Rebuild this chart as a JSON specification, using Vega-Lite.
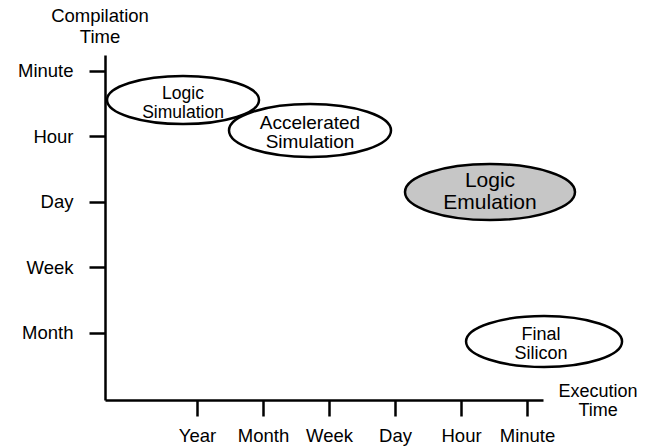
{
  "$schema": "https://vega.github.io/schema/vega-lite/v6.json",
  "width": 438,
  "height": 345,
  "autosize": {"type": "none"},
  "padding": {"left": 105, "top": 55, "right": 112, "bottom": 46},
  "background": "white",
  "config": {
    "view": {"stroke": null},
    "font": "Liberation Sans",
    "axis": {
      "grid": false,
      "domainColor": "black",
      "domainWidth": 2.5,
      "tickColor": "black",
      "tickWidth": 2.5,
      "tickSize": 16,
      "labelColor": "black",
      "labelFont": "Liberation Sans",
      "labelFontSize": 18.5,
      "title": null
    },
    "text": {"font": "Liberation Sans", "color": "black", "align": "center", "baseline": "middle", "lineBreak": "\n"}
  },
  "datasets": {
    "regions": [
      {"name": "Logic Simulation", "text": "Logic\nSimulation", "exec": 0.788, "comp": 4.557},
      {"name": "Accelerated Simulation", "text": "Accelerated\nSimulation", "exec": 2.712, "comp": 4.091},
      {"name": "Logic Emulation", "text": "Logic\nEmulation", "exec": 5.439, "comp": 3.152},
      {"name": "Final Silicon", "text": "Final\nSilicon", "exec": 6.258, "comp": 0.870}
    ],
    "titles": [
      {"name": "y", "text": "Compilation\nTime", "exec": -0.47, "comp": 5.70},
      {"name": "x", "text": "Execution\nTime", "exec": 7.076, "comp": -0.023}
    ]
  },
  "encoding": {
    "x": {
      "field": "exec",
      "type": "quantitative",
      "scale": {"domain": [-0.394, 6.242], "nice": false, "zero": false},
      "axis": {
        "values": [1, 2, 3, 4, 5, 6],
        "labelExpr": "['', 'Year', 'Month', 'Week', 'Day', 'Hour', 'Minute'][datum.value]",
        "labelPadding": 10,
        "title": null
      }
    },
    "y": {
      "field": "comp",
      "type": "quantitative",
      "scale": {"domain": [-0.023, 5.244], "nice": false, "zero": false},
      "axis": {
        "values": [1, 2, 3, 4, 5],
        "labelExpr": "['', 'Month', 'Week', 'Day', 'Hour', 'Minute'][datum.value]",
        "labelPadding": 16,
        "title": null
      }
    }
  },
  "layer": [
    {
      "data": {"name": "regions"},
      "mark": {"type": "point", "filled": true, "size": 40000, "stroke": "black", "strokeWidth": 2.5, "opacity": 1, "fillOpacity": 1, "strokeOpacity": 1},
      "encoding": {
        "shape": {
          "field": "name",
          "type": "nominal",
          "scale": {
            "domain": ["Logic Simulation", "Accelerated Simulation", "Logic Emulation", "Final Silicon"],
            "range": [
              "M -0.76 0 A 0.76 0.24 0 1 1 0.76 0 A 0.76 0.24 0 1 1 -0.76 0 Z",
              "M -0.81 0 A 0.81 0.265 0 1 1 0.81 0 A 0.81 0.265 0 1 1 -0.81 0 Z",
              "M -0.85 0 A 0.85 0.28 0 1 1 0.85 0 A 0.85 0.28 0 1 1 -0.85 0 Z",
              "M -0.78 0 A 0.78 0.255 0 1 1 0.78 0 A 0.78 0.255 0 1 1 -0.78 0 Z"
            ]
          },
          "legend": null
        },
        "fill": {
          "field": "name",
          "type": "nominal",
          "scale": {
            "domain": ["Logic Simulation", "Accelerated Simulation", "Logic Emulation", "Final Silicon"],
            "range": ["white", "white", "#c6c6c6", "white"]
          },
          "legend": null
        }
      }
    },
    {
      "data": {"name": "regions"},
      "transform": [{"filter": "datum.name == 'Logic Simulation'"}],
      "mark": {"type": "text", "fontSize": 17.5, "lineHeight": 19, "dy": -6.5},
      "encoding": {"text": {"field": "text"}}
    },
    {
      "data": {"name": "regions"},
      "transform": [{"filter": "datum.name == 'Accelerated Simulation'"}],
      "mark": {"type": "text", "fontSize": 19, "lineHeight": 19.5, "dy": -8},
      "encoding": {"text": {"field": "text"}}
    },
    {
      "data": {"name": "regions"},
      "transform": [{"filter": "datum.name == 'Logic Emulation'"}],
      "mark": {"type": "text", "fontSize": 21, "lineHeight": 22, "dy": -11},
      "encoding": {"text": {"field": "text"}}
    },
    {
      "data": {"name": "regions"},
      "transform": [{"filter": "datum.name == 'Final Silicon'"}],
      "mark": {"type": "text", "fontSize": 18, "lineHeight": 19, "dy": -6.5, "dx": -3},
      "encoding": {"text": {"field": "text"}}
    },
    {
      "data": {"name": "titles"},
      "transform": [{"filter": "datum.name == 'y'"}],
      "mark": {"type": "text", "fontSize": 18.5, "lineHeight": 21, "dy": -9.5},
      "encoding": {"text": {"field": "text"}}
    },
    {
      "data": {"name": "titles"},
      "transform": [{"filter": "datum.name == 'x'"}],
      "mark": {"type": "text", "fontSize": 18, "lineHeight": 18.5, "dy": -8},
      "encoding": {"text": {"field": "text"}}
    }
  ]
}
